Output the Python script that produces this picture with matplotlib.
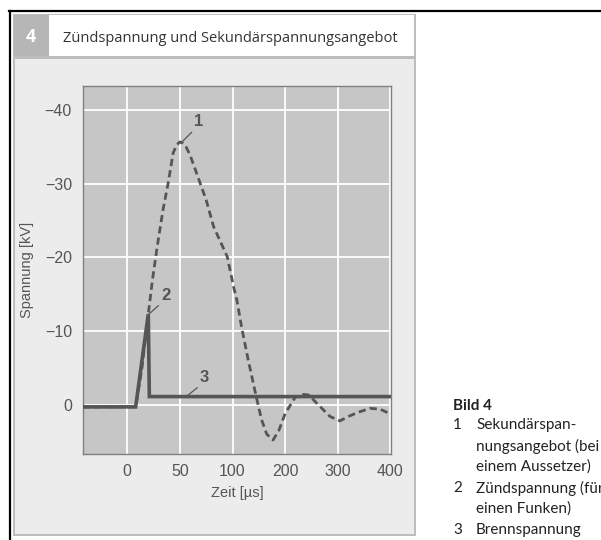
import numpy as np
import matplotlib
matplotlib.use("Agg")
import matplotlib.pyplot as plt
from matplotlib.patches import Rectangle
from matplotlib.lines import Line2D

# data (time in µs, voltage in kV)
t_angebot = [-42, 8, 14, 20, 24, 28.5, 34, 39, 43.6, 47, 50, 53, 56, 60, 64, 69, 75, 82, 95, 101.7, 108,
             117.6, 130, 145, 155, 165, 177, 188, 200, 219, 235, 245, 260, 285, 304, 320, 340, 361, 380, 395]
u_angebot = [0.3, 0.3, -5, -12.3, -17, -21.5, -26.5, -30.2, -34.2, -35.3, -35.7, -35.5, -35.0, -33.8,
             -32.2, -30.2, -27.8, -24.2, -20.1, -16.1, -14.3, -10.4, -6.0, -1.1, 2.0, 4.0, 4.8, 3.5, 1.2,
             -1.0, -1.4, -1.3, -0.2, 1.6, 2.2, 1.6, 1.0, 0.5, 0.6, 1.1]
t_zuend = [-42, 8, 20, 21, 400]
u_zuend = [0.3, 0.3, -12.3, -1.1, -1.1]

x_ticks = [0, 50, 100, 200, 300, 400]
y_ticks = [0, -10, -20, -30, -40]

title = "Zündspannung und Sekundärspannungsangebot"
legend_lines = [("1", "Sekundärspan-"), ("", "nungsangebot (bei"), ("", "einem Aussetzer)"),
                ("2", "Zündspannung (für"), ("", "einen Funken)"), ("3", "Brennspannung")]

W, H = 601, 540
fig = plt.figure(figsize=(W / 100, H / 100), dpi=100)
fig.patch.set_facecolor("white")


def box(x0, y0, x1, y1, color):
    # rectangle in pixel coords (top-left origin)
    fig.add_artist(Rectangle((x0 / W, 1 - y1 / H), (x1 - x0) / W, (y1 - y0) / H,
                             transform=fig.transFigure, facecolor=color, edgecolor="none", zorder=0))


# outer frame and panel
fig.add_artist(Line2D([9 / W, 1], [1 - 11 / H] * 2, color="black", lw=1.6, transform=fig.transFigure))
fig.add_artist(Line2D([10 / W] * 2, [0, 1 - 11 / H], color="black", lw=1.6, transform=fig.transFigure))
box(13, 14, 416, 536, "#bdbdbd")
box(14, 15, 49, 56, "#b6b6b6")
box(49, 15, 414, 56, "white")
box(15, 59, 414, 534, "#ececec")

txt_font = ["Open Sans", "DejaVu Sans"]
cap_font = ["Lato", "Open Sans", "DejaVu Sans"]
fig.text(31 / W, 1 - 37 / H, "4", color="white", fontsize=13, fontweight="bold",
         family=txt_font, ha="center", va="center")
fig.text(63 / W, 1 - 38 / H, title, color="#333333", fontsize=10.5,
         family=txt_font, ha="left", va="center")

# piecewise scale: 0..100 µs and 100..400 µs share the same tick spacing
def fwd(x):
    x = np.asarray(x, dtype=float)
    return np.where(x <= 100, x / 50, 2 + (x - 100) / 100)


def inv(u):
    u = np.asarray(u, dtype=float)
    return np.where(u <= 2, u * 50, 100 + (u - 2) * 100)


num_font = ["Liberation Sans Narrow", "Liberation Sans", "DejaVu Sans"]
ax = fig.add_axes([83 / W, 1 - 454 / H, 308 / W, 368 / H])
ax.set_xscale("function", functions=(fwd, inv))
ax.set_facecolor("#c6c6c6")
ax.set_xlim(-42, 401)
ax.set_ylim(6.7, -43.3)
ax.set_xticks(x_ticks)
ax.set_yticks(y_ticks)
ax.set_xticklabels([str(v) for v in x_ticks])
ax.set_yticklabels([str(v).replace("-", "\u2212") for v in y_ticks])
ax.minorticks_off()
ax.grid(True, color="white", lw=1.3)
ax.set_axisbelow(True)
ax.tick_params(length=0, labelsize=11.5, labelcolor="#555555")
ax.tick_params(axis="x", pad=7)
ax.tick_params(axis="y", pad=8)
for lab in ax.get_xticklabels() + ax.get_yticklabels():
    lab.set_family(num_font)
for s in ax.spines.values():
    s.set_color("#808080")
    s.set_linewidth(1.0)

ax.set_xlabel("Zeit [µs]", fontsize=10.5, color="#555555", family=num_font, labelpad=5)
ax.set_ylabel("Spannung [kV]", fontsize=10.5, color="#555555", family=num_font, labelpad=8)

ax.plot(t_angebot, u_angebot, color="#555555", lw=2.0, ls=(0, (2.6, 1.5)), zorder=3)
ax.plot(t_zuend, u_zuend, color="#555555", lw=2.6, solid_joinstyle="miter", zorder=4)

# number labels with leader lines
marks = [("1", (52, -35.7), (9, 9)), ("2", (20.5, -12.3), (9, 8)), ("3", (56, -1.1), (10, 8))]
for lab, xy, off in marks:
    ax.annotate(lab, xy=xy, xytext=off, textcoords="offset points", ha="left", va="bottom",
                fontsize=12, fontweight="bold", color="#555555", family=num_font,
                arrowprops=dict(arrowstyle="-", color="#555555", lw=0.9, relpos=(0, 0),
                                shrinkA=0, shrinkB=0))

# caption on the right
fig.text(453 / W, 1 - 406 / H, "Bild 4", fontsize=11, fontweight="bold", color="#222222",
         family=cap_font, va="center")
for i, (num, line) in enumerate(legend_lines):
    y = 1 - (425 + 21 * i) / H
    if num:
        fig.text(453 / W, y, num, fontsize=11, color="#222222", family=cap_font, va="center")
    fig.text(476 / W, y, line, fontsize=11, color="#222222", family=cap_font, va="center")

fig.savefig("out.png", dpi=100)
